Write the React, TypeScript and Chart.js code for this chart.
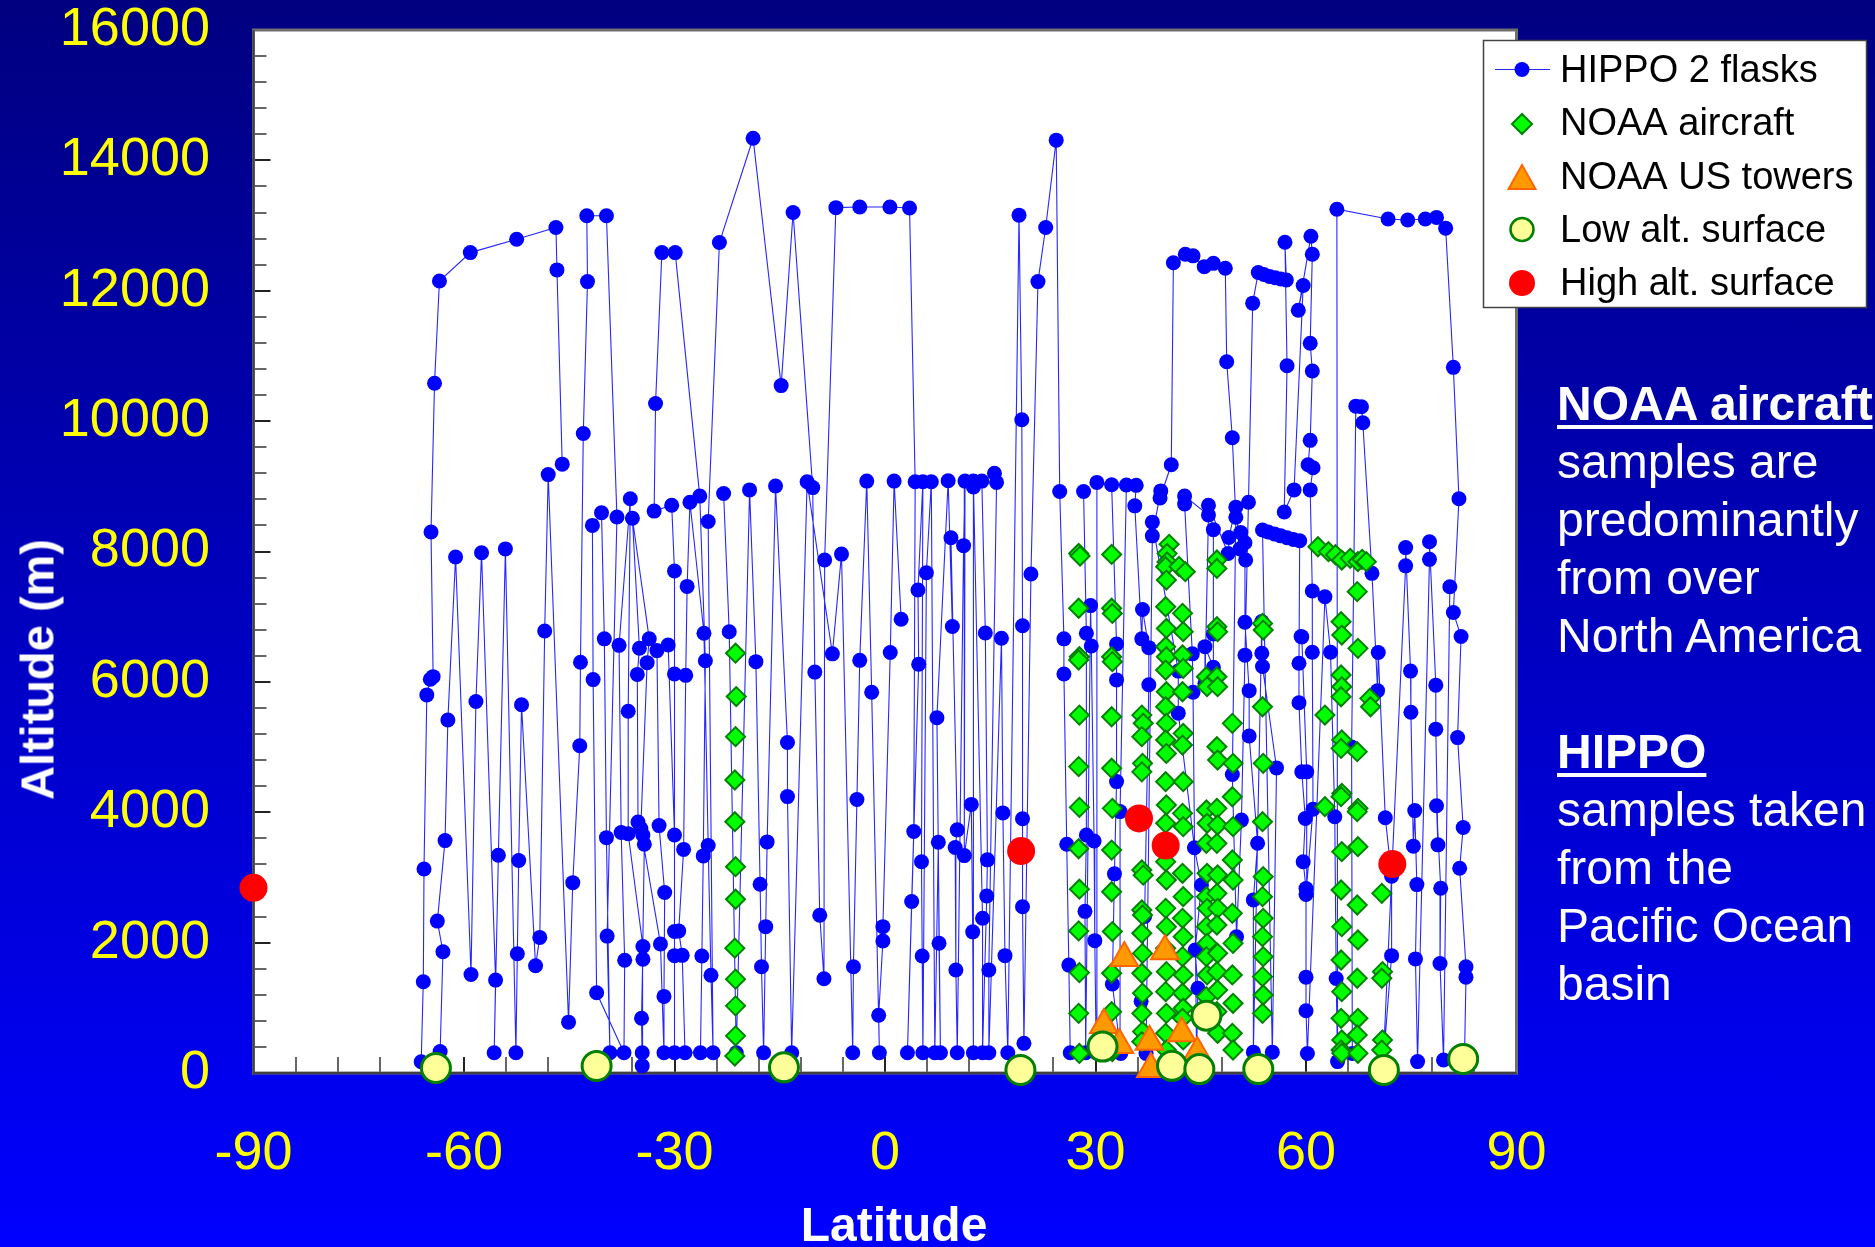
import React, { useEffect, useRef } from "react";
import { Chart, registerables } from "chart.js";

Chart.register(...registerables);

type Pt = [number, number];

const FONT = '"Liberation Sans", Arial, Helvetica, sans-serif';

const latTickValues = [-90, -60, -30, 0, 30, 60, 90];
const altTickValues = [0, 2000, 4000, 6000, 8000, 10000, 12000, 14000, 16000];

const seriesNames = ["HIPPO 2 flasks", "NOAA aircraft", "NOAA US towers", "Low alt. surface", "High alt. surface"];

// HIPPO 2 flask samples [latitude, altitude m], ordered along flight legs
const hippoLeg1: Pt[] = [
  [-46.0, 9340], [-46.75, 12320], [-46.9, 12970], [-52.5, 12790], [-59.1, 12585], [-63.5, 12150], [-64.2, 10580], [-64.7, 8300],
  [-64.4, 6080], [-64.8, 6040], [-65.3, 5800], [-65.7, 3130], [-65.8, 1400], [-66.1, 173],
  [-63.4, 330], [-63.0, 1860], [-63.8, 2330], [-62.7, 3565], [-62.3, 5415], [-61.2, 7915],
  [-59.0, 1510], [-58.3, 5700], [-57.5, 7980],
  [-55.5, 1425], [-55.7, 310], [-55.1, 3340], [-54.1, 8040],
  [-52.6, 310], [-52.4, 1830], [-52.2, 3260], [-51.8, 5650],
  [-49.8, 1645], [-49.2, 2080], [-48.5, 6780], [-48.0, 9180],
  [-45.1, 780], [-44.5, 2920], [-43.5, 5020], [-43.4, 6300], [-43.0, 9810], [-42.4, 12140], [-42.5, 13150], [-39.7, 13150], [-38.2, 8530],
  [-39.6, 2100], [-39.2, 310], [-39.7, 3610], [-40.0, 6660], [-40.4, 8595], [-41.7, 8400], [-41.6, 6035], [-41.1, 1230],
  [-37.2, 310], [-37.1, 1730], [-37.6, 3690], [-37.9, 6560], [-36.3, 8810], [-36.6, 5550], [-36.6, 3670],
  [-34.5, 1940], [-34.7, 840], [-34.6, 110], [-34.6, 310], [-34.5, 1745], [-34.3, 3510], [-34.5, 3650], [-35.2, 3850], [-35.3, 6115], [-35.0, 6515], [-36.0, 8510],
  [-33.6, 6660], [-33.9, 6295], [-34.8, 3750], [-32.0, 1980], [-31.5, 310], [-31.5, 1175], [-31.4, 2770], [-32.2, 3795], [-32.5, 6480],
  [-30.9, 6565], [-30.0, 3650], [-30.0, 2170], [-30.0, 1800], [-30.0, 310], [-30.0, 6120], [-30.0, 7700], [-30.4, 8710], [-32.9, 8620], [-32.7, 10270], [-31.8, 12585], [-29.9, 12585],
  [-26.4, 8850], [-25.6, 6325], [-25.9, 3330], [-26.1, 1795], [-26.3, 310], [-28.5, 310], [-28.9, 1805], [-29.4, 2180], [-28.7, 3430], [-28.4, 6100], [-28.2, 7465], [-27.8, 8755],
  [-25.8, 6745], [-25.2, 3490], [-24.8, 1500], [-24.5, 310], [-25.2, 8460], [-23.6, 12740], [-18.8, 14340], [-14.8, 10545], [-13.1, 13200],
  [-10.3, 8980], [-10.0, 6150], [-9.3, 2420], [-8.7, 1445], [-8.6, 7870], [-7.0, 13275], [-3.6, 13285], [0.7, 13285], [3.5, 13270],
  [4.3, 9070], [4.1, 3705], [3.8, 2630], [3.2, 310], [4.8, 6270], [4.7, 7410], [5.4, 9070], [5.2, 3240], [5.3, 1795], [5.4, 310], [5.9, 7675], [6.6, 9070],
  [7.1, 310], [7.6, 3540], [7.7, 1990], [7.9, 310], [7.4, 5450], [9.0, 9085], [9.6, 6850], [9.4, 8210],
  [10.3, 3730], [10.0, 3460], [10.1, 1580], [10.3, 310], [11.2, 8090], [11.4, 9080], [11.3, 3335], [12.3, 4120], [12.5, 2165], [12.6, 310], [12.6, 8990], [12.6, 9080],
  [13.9, 2375], [13.9, 310], [14.5, 2715], [14.6, 3270], [14.3, 6750], [13.8, 9080], [15.6, 9200], [15.9, 9060], [14.8, 1580], [14.8, 310],
  [16.6, 6670], [16.8, 3990], [17.1, 1800], [17.5, 310], [19.1, 13160], [19.5, 10020], [19.6, 6860], [19.6, 3900], [19.6, 2550], [19.8, 455], [20.8, 7655],
  [21.8, 12140], [22.9, 12970], [24.4, 14310], [24.9, 8920], [25.5, 6660], [25.5, 6120], [25.9, 3510], [26.2, 1655], [26.4, 310],
];

const hippoLeg2: Pt[] = [
  [-23.0, 8890], [-22.2, 6770], [-21.2, 310], [-19.3, 8945], [-18.4, 6310], [-17.8, 2895], [-17.6, 1630], [-17.3, 310], [-17.0, 2245], [-16.8, 3545],
  [-15.6, 9005], [-13.9, 5070], [-13.9, 4240], [-13.3, 310], [-11.1, 9070], [-7.5, 6430], [-6.2, 7960], [-4.6, 310], [-4.5, 1630], [-4.0, 4195],
  [-3.6, 6330], [-2.6, 9080], [-1.9, 5840], [-0.8, 310], [-0.9, 885], [-0.3, 2025], [-0.3, 2245], [0.75, 6450], [1.3, 9080], [2.3, 6960],
];

const hippoLeg3: Pt[] = [
  [28.3, 8920], [28.7, 6745], [28.7, 3650], [28.5, 2480], [28.6, 310], [29.3, 7170], [29.4, 6550], [29.8, 3560], [29.9, 2030], [30.1, 310], [30.2, 9060],
  [32.3, 9025], [33.0, 6580], [33.0, 6030], [33.0, 4470], [32.7, 3055], [32.4, 1365], [33.6, 300], [33.5, 4010], [34.4, 9020],
  [35.8, 9015], [35.6, 8700], [36.6, 6660], [36.7, 7110], [37.6, 6525], [37.6, 5955], [37.0, 2400], [36.5, 1100], [37.2, 300],
  [38.1, 8240], [39.3, 8930], [39.2, 8820], [40.8, 9330], [41.1, 12430], [42.8, 12560], [43.9, 12535], [45.5, 12370], [46.8, 12420], [48.5, 12345],
  [48.7, 10910], [49.5, 9745], [50.0, 8525], [49.5, 4580], [50.1, 2090], [50.8, 3880], [51.3, 6410], [51.8, 8755], [52.4, 11810],
  [53.2, 12280], [54.0, 12250], [54.8, 12220], [55.6, 12200], [56.4, 12180], [57.2, 12165], [57.0, 12745], [57.3, 10850], [56.9, 8605], [58.3, 8945],
  [59.6, 12080], [58.9, 11700], [60.7, 12835], [60.9, 12560], [60.6, 11195], [60.9, 10770], [60.6, 9705], [60.3, 9330], [61.0, 9285], [60.6, 8945],
  [60.9, 7395], [60.9, 6455], [61.0, 4045], [60.0, 2740], [60.0, 1470], [60.0, 955], [60.2, 300], [62.7, 7305], [63.5, 6455], [64.1, 3930], [64.3, 1450], [64.5, 175],
  [64.4, 13250], [71.7, 13100], [74.5, 13085], [77.0, 13100], [78.6, 13125], [79.9, 12960], [81.0, 10825], [81.8, 8810], [81.0, 7065], [82.1, 6695],
  [81.6, 5145], [82.4, 3765], [81.9, 3140], [82.8, 1630], [82.8, 1470], [82.6, 300],
];

const hippoLeg4: Pt[] = [
  [38.1, 8450], [41.8, 6165], [41.8, 5520], [44.1, 3455], [45.1, 2885], [44.2, 1885], [44.6, 1300], [44.4, 300], [43.9, 5840], [43.8, 6430],
  [42.7, 8730], [42.7, 8850], [46.1, 8560], [45.6, 5980], [45.6, 6540], [46.8, 6225], [46.8, 6735], [46.8, 8335], [46.1, 8710], [48.9, 7970],
  [49.0, 8215], [50.0, 8680], [50.6, 8040], [51.4, 7870], [50.7, 8290], [51.3, 8135], [51.3, 6915], [51.9, 5865], [51.9, 5170], [53.1, 3525],
  [52.5, 2655], [52.5, 320], [53.7, 6925], [53.7, 6440], [53.8, 6235], [55.8, 4680], [55.2, 320], [53.8, 8330], [54.6, 8300], [55.5, 8270],
  [56.4, 8240], [57.3, 8210], [58.2, 8185], [59.1, 8165], [59.0, 6285], [59.0, 5680], [59.4, 4620], [59.9, 3905], [59.6, 3240], [60.0, 2830],
  [60.1, 4620], [59.4, 6690], [59.3, 6695],
];

const hippoLeg5: Pt[] = [
  [66.6, 300], [66.5, 5000], [67.1, 10230], [67.9, 10220], [68.1, 9975], [69.4, 7665], [70.2, 5865], [70.3, 6450], [71.3, 3915], [72.2, 3020],
  [72.2, 1800], [71.0, 150], [74.2, 7780], [74.2, 8060], [74.9, 6165], [74.95, 5535], [75.3, 3480], [75.5, 4025], [75.8, 2890], [75.6, 1750],
  [75.9, 175], [77.6, 7880], [77.6, 8150], [78.5, 5950], [78.5, 5275], [78.8, 3500], [78.6, 4100], [79.2, 2835], [79.1, 1680], [79.6, 200], [80.5, 7460],
];

const noaaAircraft: Pt[] = [
  [-21.3, 6440], [-21.2, 5775], [-21.3, 5160], [-21.4, 4495], [-21.4, 3855], [-21.3, 3165], [-21.3, 2665], [-21.4, 1915], [-21.3, 1440], [-21.3, 1030], [-21.3, 570], [-21.4, 260],
  [27.6, 7970], [27.8, 7930], [27.6, 7130], [27.7, 6385], [27.6, 6335], [27.7, 5490], [27.6, 4700], [27.7, 4075], [27.6, 3440], [27.7, 2820], [27.6, 2180], [27.7, 1540], [27.6, 915], [27.7, 300],
  [32.3, 7955], [32.3, 7130], [32.4, 7050], [32.3, 6385], [32.4, 6310], [32.3, 5465], [32.3, 4675], [32.4, 4060], [32.3, 3420], [32.3, 2780], [32.4, 2170], [32.3, 1530], [32.3, 940], [32.4, 330],
  [36.6, 5490], [36.8, 5365], [36.6, 5160], [36.7, 4750], [36.6, 4620], [36.6, 3115], [36.8, 3035], [36.6, 2500], [36.7, 2425], [36.6, 2145], [36.7, 1835], [36.6, 1530], [36.7, 1225], [36.6, 915], [36.7, 635], [36.6, 480],
  [40.5, 8110], [40.2, 7970], [40.2, 7840], [40.0, 7767], [40.1, 7562], [40.0, 7153], [40.1, 6820], [40.0, 6539], [40.1, 6386], [40.0, 6181], [40.1, 5849], [40.0, 5619], [40.1, 5364], [40.0, 5108], [40.1, 4903],
  [40.0, 4469], [40.1, 4111], [40.0, 3830], [40.1, 3523], [40.0, 3242], [40.1, 2961], [40.0, 2526], [40.1, 2245], [40.0, 1913], [40.1, 1555], [40.0, 1248], [40.1, 915], [40.0, 609], [40.1, 353],
  [41.9, 7770], [42.8, 7690], [42.4, 7051], [42.5, 6770], [42.4, 6412], [42.5, 6207], [42.4, 5849], [42.5, 5210], [42.4, 5031], [42.5, 4469], [42.4, 3983], [42.5, 3779], [42.4, 3063],
  [42.5, 2705], [42.4, 2373], [42.5, 2092], [42.4, 1785], [42.5, 1504], [42.4, 1223], [42.5, 993], [42.4, 839], [42.5, 507],
  [45.8, 6079], [45.9, 5926], [45.8, 4035], [45.9, 3830], [45.8, 3523], [45.9, 3063], [45.8, 2705], [45.9, 2526], [45.8, 2245], [45.9, 1989], [45.8, 1785], [45.9, 1504], [45.8, 1171],
  [47.3, 7870], [47.3, 7740], [47.3, 6846], [47.4, 6770], [47.3, 6079], [47.4, 5926], [47.3, 5005], [47.4, 4801], [47.3, 4060], [47.4, 3804], [47.3, 3523], [47.4, 3037], [47.3, 2756],
  [47.4, 2526], [47.3, 2270], [47.4, 1836], [47.3, 1555], [47.4, 1274], [47.3, 941], [47.4, 609],
  [49.5, 5364], [49.6, 4750], [49.5, 4238], [49.6, 3779], [49.5, 3267], [49.6, 2961], [49.5, 2449], [49.6, 1989], [49.5, 1504], [49.6, 1069], [49.5, 609], [49.6, 353],
  [53.8, 6897], [53.9, 6795], [53.8, 5619], [53.9, 4750], [53.8, 3855], [53.9, 3012], [53.8, 2705], [53.9, 2373], [53.8, 2092], [53.9, 1785], [53.8, 1478], [53.9, 1197], [53.8, 915],
  [61.7, 8073], [63.2, 7997], [64.2, 7950], [65.1, 7869], [66.3, 7895], [67.4, 7844], [68.0, 7880], [68.6, 7844],
  [62.7, 5491], [62.7, 4085],
  [65.0, 6923], [65.1, 6718], [65.0, 6105], [65.1, 5926], [65.0, 5772], [65.1, 5108], [65.0, 4980], [65.1, 4290], [65.0, 4239], [65.1, 3395], [65.0, 2807], [65.1, 2245],
  [65.0, 1734], [65.1, 1248], [65.0, 839], [65.1, 507], [65.0, 353], [65.1, 302],
  [67.3, 7384], [67.4, 6514], [67.3, 4929], [67.4, 4060], [67.3, 4009], [67.4, 3472], [67.3, 2577], [67.4, 2041], [67.3, 1453], [67.4, 839], [67.3, 584], [67.4, 302],
  [69.1, 5747], [69.2, 5619],
  [70.8, 2756], [70.9, 1555], [70.8, 1453], [70.9, 507], [70.8, 353],
];

const noaaTowers: Pt[] = [
  [31.2, 736], [33.4, 430], [34.1, 1764], [37.7, 481], [37.9, 60], [39.9, 1866], [42.3, 609], [44.5, 307],
];

const lowAltSurface: Pt[] = [
  [-64.0, 77], [-41.1, 107], [-14.4, 87], [19.3, 46], [31.0, 405], [40.9, 110], [44.8, 60], [45.8, 880], [53.2, 60], [71.1, 46], [82.4, 215],
];

const highAltSurface: Pt[] = [
  [-90, 2840], [19.4, 3405], [36.2, 3905], [40.0, 3490], [72.3, 3205],
];

const hippoLegs = [hippoLeg1, hippoLeg2, hippoLeg3, hippoLeg4, hippoLeg5];

const toXY = (pts: Pt[]) => pts.map(([x, y]) => ({ x, y }));

const framePlugin = {
  id: "plotFrame",
  beforeDatasetsDraw(chart: any) {
    const { ctx, chartArea: a, scales } = chart;
    const xs = scales.x;
    const ys = scales.y;
    ctx.save();
    ctx.fillStyle = "#ffffff";
    ctx.fillRect(a.left, a.top, a.right - a.left, a.bottom - a.top);
    ctx.lineWidth = 2;
    for (let v = 0; v <= 16000; v += 400) {
      const major = v % 2000 === 0;
      const py = Math.round(ys.getPixelForValue(v));
      ctx.strokeStyle = major ? "#222222" : "#666666";
      ctx.beginPath();
      ctx.moveTo(a.left, py);
      ctx.lineTo(a.left + (major ? 17 : 13), py);
      ctx.stroke();
    }
    for (let v = -90; v <= 90; v += 6) {
      const major = v % 30 === 0;
      const px = Math.round(xs.getPixelForValue(v));
      ctx.strokeStyle = major ? "#222222" : "#666666";
      ctx.beginPath();
      ctx.moveTo(px, a.bottom);
      ctx.lineTo(px, a.bottom - 16);
      ctx.stroke();
    }
    ctx.strokeStyle = "#707070";
    ctx.lineWidth = 3;
    ctx.strokeRect(a.left, a.top, a.right - a.left, a.bottom - a.top);
    ctx.strokeStyle = "#404040";
    ctx.lineWidth = 2;
    ctx.beginPath();
    ctx.moveTo(a.left, a.top);
    ctx.lineTo(a.left, a.bottom);
    ctx.lineTo(a.right, a.bottom);
    ctx.stroke();
    ctx.restore();
  },
};

const legendPlugin = {
  id: "boxLegend",
  afterDraw(chart: any) {
    const ctx = chart.ctx;
    ctx.save();
    const bx = 1483.5, by = 40.5, bw = 383, bh = 267;
    ctx.fillStyle = "#ffffff";
    ctx.fillRect(bx, by, bw, bh);
    ctx.strokeStyle = "#444444";
    ctx.lineWidth = 1.5;
    ctx.strokeRect(bx, by, bw, bh);
    const mx = 1522;
    const cy = [69.5, 124, 177, 229.5, 283];
    const base = [81.5, 135, 188.5, 242, 295];
    ctx.strokeStyle = "rgba(0,0,255,0.85)";
    ctx.lineWidth = 1.2;
    ctx.beginPath();
    ctx.moveTo(1495, cy[0]);
    ctx.lineTo(1550, cy[0]);
    ctx.stroke();
    ctx.fillStyle = "#0000ff";
    ctx.beginPath();
    ctx.arc(mx, cy[0], 7.5, 0, Math.PI * 2);
    ctx.fill();
    ctx.beginPath();
    ctx.moveTo(mx - 10, cy[1]);
    ctx.lineTo(mx, cy[1] - 10);
    ctx.lineTo(mx + 10, cy[1]);
    ctx.lineTo(mx, cy[1] + 10);
    ctx.closePath();
    ctx.fillStyle = "#00ff00";
    ctx.fill();
    ctx.strokeStyle = "#008000";
    ctx.lineWidth = 2;
    ctx.stroke();
    ctx.beginPath();
    ctx.moveTo(mx, 165);
    ctx.lineTo(mx + 13.5, 189);
    ctx.lineTo(mx - 13.5, 189);
    ctx.closePath();
    ctx.fillStyle = "#ff9900";
    ctx.fill();
    ctx.strokeStyle = "#ff6600";
    ctx.lineWidth = 2;
    ctx.stroke();
    ctx.beginPath();
    ctx.arc(mx, cy[3], 11.5, 0, Math.PI * 2);
    ctx.fillStyle = "#ffff99";
    ctx.fill();
    ctx.strokeStyle = "#008000";
    ctx.lineWidth = 2.5;
    ctx.stroke();
    ctx.beginPath();
    ctx.arc(mx, cy[4], 13, 0, Math.PI * 2);
    ctx.fillStyle = "#ff0000";
    ctx.fill();
    ctx.fillStyle = "#000000";
    ctx.font = `38px ${FONT}`;
    ctx.textAlign = "left";
    ctx.textBaseline = "alphabetic";
    seriesNames.forEach((n, i) => ctx.fillText(n, 1560, base[i]));
    ctx.restore();
  },
};

export default function App() {
  const canvasRef = useRef<HTMLCanvasElement | null>(null);

  useEffect(() => {
    const canvas = canvasRef.current;
    if (!canvas) return;
    const hippoData: any[] = [];
    hippoLegs.forEach((leg, i) => {
      if (i > 0) hippoData.push({ x: null, y: null });
      hippoData.push(...toXY(leg));
    });

    const chart = new Chart(canvas, {
      type: "scatter",
      data: {
        datasets: [
          {
            label: seriesNames[0],
            data: hippoData,
            showLine: true,
            spanGaps: false,
            borderColor: "rgba(0,0,255,0.85)",
            borderWidth: 1.1,
            backgroundColor: "#0000ff",
            pointBackgroundColor: "#0000ff",
            pointBorderColor: "#0000ff",
            pointBorderWidth: 0,
            pointRadius: 7.5,
            pointHoverRadius: 7.5,
            clip: false,
            order: 5,
          } as any,
          {
            label: seriesNames[1],
            data: toXY(noaaAircraft),
            pointStyle: "rectRot",
            pointRadius: 9.5,
            pointHoverRadius: 9.5,
            pointBackgroundColor: "#00ff00",
            pointBorderColor: "#008000",
            pointBorderWidth: 2,
            clip: false,
            order: 4,
          } as any,
          {
            label: seriesNames[2],
            data: toXY(noaaTowers),
            pointStyle: "triangle",
            pointRadius: 16,
            pointHoverRadius: 16,
            pointBackgroundColor: "#ff9900",
            pointBorderColor: "#ff6600",
            pointBorderWidth: 2,
            clip: false,
            order: 3,
          } as any,
          {
            label: seriesNames[3],
            data: toXY(lowAltSurface),
            pointRadius: 14.5,
            pointHoverRadius: 14.5,
            pointBackgroundColor: "#ffff99",
            pointBorderColor: "#008000",
            pointBorderWidth: 3,
            clip: false,
            order: 2,
          } as any,
          {
            label: seriesNames[4],
            data: toXY(highAltSurface),
            pointRadius: 14,
            pointHoverRadius: 14,
            pointBackgroundColor: "#ff0000",
            pointBorderColor: "#ff0000",
            pointBorderWidth: 0,
            clip: false,
            order: 1,
          } as any,
        ],
      },
      options: {
        responsive: false,
        animation: false,
        devicePixelRatio: 1,
        events: [],
        layout: { padding: { left: 0, right: 358.5, top: 30, bottom: 0 } },
        plugins: {
          legend: { display: false },
          tooltip: { enabled: false },
          title: { display: false },
        },
        scales: {
          x: {
            type: "linear",
            position: "bottom",
            min: -90,
            max: 90,
            grid: { display: false, drawTicks: false },
            border: { display: false },
            afterFit: (s: any) => {
              s.height = 174;
              s.paddingLeft = 0;
              s.paddingRight = 0;
              s.paddingTop = 0;
              s.paddingBottom = 0;
            },
            afterBuildTicks: (s: any) => {
              s.ticks = latTickValues.map((v) => ({ value: v }));
            },
            ticks: {
              color: "#ffff00",
              font: { family: FONT, size: 54, lineHeight: 1 },
              padding: 54,
              maxRotation: 0,
              autoSkip: false,
              callback: (v: any) => String(v),
            },
          },
          y: {
            type: "linear",
            min: 0,
            max: 16000,
            grid: { display: false, drawTicks: false },
            border: { display: false },
            afterFit: (s: any) => {
              s.width = 253.5;
              s.paddingTop = 0;
              s.paddingBottom = 0;
              s.paddingLeft = 0;
              s.paddingRight = 0;
            },
            afterBuildTicks: (s: any) => {
              s.ticks = altTickValues.map((v) => ({ value: v }));
            },
            ticks: {
              color: "#ffff00",
              font: { family: FONT, size: 54, lineHeight: 1 },
              padding: 43.5,
              autoSkip: false,
              callback: (v: any) => String(v),
            },
          },
        },
      },
      plugins: [framePlugin, legendPlugin],
    });
    return () => chart.destroy();
  }, []);

  const textBlock: React.CSSProperties = {
    position: "absolute",
    left: 1557,
    top: 375,
    color: "#ffffff",
    fontFamily: FONT,
    fontSize: 48,
    lineHeight: "58px",
    whiteSpace: "nowrap",
  };
  const heading: React.CSSProperties = {
    fontWeight: "bold",
    textDecoration: "underline",
    textDecorationThickness: "4px",
    textUnderlineOffset: "5px",
  };

  return (
    <div
      style={{
        position: "fixed",
        left: 0,
        top: 0,
        width: 1875,
        height: 1247,
        overflow: "hidden",
        background: "linear-gradient(to bottom, #000080 0%, #0000ff 100%)",
      }}
    >
      <canvas
        ref={canvasRef}
        width={1875}
        height={1247}
        style={{ position: "absolute", left: 0, top: 0, width: 1875, height: 1247 }}
      />
      <div
        style={{
          position: "absolute",
          left: 37 - 200,
          top: 669 - 23.5,
          width: 400,
          height: 47,
          lineHeight: "47px",
          textAlign: "center",
          color: "#ffffff",
          fontFamily: FONT,
          fontWeight: "bold",
          fontSize: 47,
          transform: "rotate(-90deg)",
          transformOrigin: "50% 50%",
          whiteSpace: "nowrap",
        }}
      >
        Altitude (m)
      </div>
      <div
        style={{
          position: "absolute",
          left: 894 - 200,
          top: 1201,
          width: 400,
          lineHeight: "48px",
          textAlign: "center",
          color: "#ffffff",
          fontFamily: FONT,
          fontWeight: "bold",
          fontSize: 48,
          whiteSpace: "nowrap",
        }}
      >
        Latitude
      </div>
      <div style={textBlock}>
        <div style={heading}>NOAA aircraft</div>
        <div>samples are</div>
        <div>predominantly</div>
        <div>from over</div>
        <div>North America</div>
        <div>&nbsp;</div>
        <div style={heading}>HIPPO</div>
        <div>samples taken</div>
        <div>from the</div>
        <div>Pacific Ocean</div>
        <div>basin</div>
      </div>
    </div>
  );
}
